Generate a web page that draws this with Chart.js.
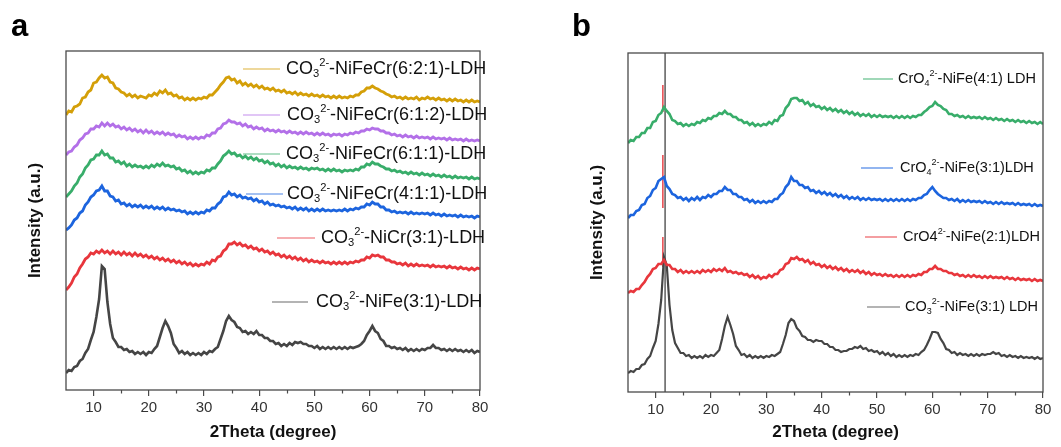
<!DOCTYPE html>
<html>
<head>
<meta charset="utf-8">
<script src="https://cdn.jsdelivr.net/npm/chart.js@4.4.0/dist/chart.umd.min.js"></script>
<style>
	body { margin: 0; background: #fff; }
	#wrap { position: relative; width: 1061px; height: 447px; background: #fff; }
	#panelA { position: absolute; left: 0; top: 0; }
	#panelB { position: absolute; left: 530px; top: 0; }
</style>
</head>
<body>
<div id="wrap">
	<canvas id="panelA" width="530" height="447"></canvas>
	<canvas id="panelB" width="531" height="447"></canvas>
</div>
<script>
// 2theta grid (degree)
const twoTheta = [
	5,5.5,6,6.5,7,7.5,8,8.5,9,9.5,
	10,10.5,11,11.5,12,12.5,13,13.5,14,14.5,
	15,15.5,16,16.5,17,17.5,18,18.5,19,19.5,
	20,20.5,21,21.5,22,22.5,23,23.5,24,24.5,
	25,25.5,26,26.5,27,27.5,28,28.5,29,29.5,
	30,30.5,31,31.5,32,32.5,33,33.5,34,34.5,
	35,35.5,36,36.5,37,37.5,38,38.5,39,39.5,
	40,40.5,41,41.5,42,42.5,43,43.5,44,44.5,
	45,45.5,46,46.5,47,47.5,48,48.5,49,49.5,
	50,50.5,51,51.5,52,52.5,53,53.5,54,54.5,
	55,55.5,56,56.5,57,57.5,58,58.5,59,59.5,
	60,60.5,61,61.5,62,62.5,63,63.5,64,64.5,
	65,65.5,66,66.5,67,67.5,68,68.5,69,69.5,
	70,70.5,71,71.5,72,72.5,73,73.5,74,74.5,
	75,75.5,76,76.5,77,77.5,78,78.5,79,79.5,
	80
]

// panel a: stacked intensities (a.u., offset)
const aNiFeCr621 = [
	275,279,278,283,284,286,292,293,298,300,
	307,308,312,315,312,313,308,307,302,301,
	298,297,294,296,293,295,292,294,293,292,
	295,294,297,295,299,297,300,296,297,294,
	295,292,293,290,292,290,292,290,292,291,
	293,292,295,295,298,301,305,308,312,313,
	310,311,307,309,305,307,304,306,303,305,
	302,304,301,302,300,302,299,300,298,300,
	297,298,296,298,295,297,295,296,294,296,
	294,295,293,295,293,294,292,294,292,294,
	292,293,292,294,293,295,295,298,299,302,
	302,304,302,301,299,298,296,295,293,294,
	292,293,291,293,291,292,291,293,290,292,
	291,293,291,292,290,292,290,291,289,291,
	289,291,289,290,288,290,288,290,288,289,
	288
]
const aNiFeCr612 = [
	235,238,239,243,245,250,252,256,257,261,
	261,264,263,267,264,267,264,266,263,264,
	261,263,260,262,259,261,258,260,257,260,
	257,259,256,258,256,258,255,257,255,256,
	253,255,253,254,251,253,251,253,251,253,
	252,255,254,257,257,261,262,266,267,270,
	268,268,266,267,264,266,263,264,261,263,
	261,262,259,261,259,260,258,260,258,259,
	257,259,257,258,256,258,256,258,256,257,
	255,257,255,257,255,256,254,256,255,256,
	254,256,255,257,256,258,257,259,259,261,
	260,262,261,261,259,259,257,257,255,256,
	254,255,253,255,253,254,252,254,252,253,
	252,253,251,253,251,252,251,252,250,252,
	250,251,250,251,249,251,249,250,249,250,
	249
]
const aNiFeCr611 = [
	193,196,199,204,207,213,216,222,225,230,
	231,235,235,239,235,236,232,232,228,229,
	226,228,224,226,223,225,223,224,222,224,
	222,225,223,226,224,227,224,225,223,224,
	221,222,219,220,217,219,216,218,216,218,
	217,220,219,222,222,226,229,234,236,239,
	236,237,234,235,232,234,231,233,230,232,
	229,230,227,229,226,227,224,226,223,225,
	222,224,222,223,221,223,221,222,220,222,
	221,222,220,221,219,221,219,221,219,220,
	218,220,219,220,219,221,220,223,223,226,
	225,228,226,226,224,223,221,221,219,220,
	218,219,217,218,216,218,216,217,215,217,
	215,216,214,216,214,215,213,215,213,214,
	212,214,212,213,212,213,211,213,211,212,
	211
]
const aNiFeCr411 = [
	160,162,165,170,172,177,179,185,188,193,
	195,199,200,204,199,199,194,193,189,190,
	186,187,184,186,183,185,183,185,182,184,
	182,184,181,183,181,183,180,182,180,181,
	179,180,178,179,176,178,176,178,176,178,
	177,180,179,182,182,186,188,193,194,198,
	195,196,193,195,192,193,191,192,189,191,
	188,189,186,188,185,186,184,185,183,184,
	182,183,181,183,180,182,180,182,179,181,
	179,181,179,181,179,180,179,180,179,180,
	179,181,179,181,180,182,181,183,183,186,
	185,188,186,186,183,183,180,180,178,179,
	177,178,177,178,176,178,176,177,176,177,
	176,177,175,177,175,176,174,176,174,175,
	174,175,173,175,173,174,173,174,172,174,
	173
]
const aNiCr31 = [
	100,103,107,113,116,122,126,131,133,137,
	136,139,137,140,137,139,136,139,136,138,
	135,138,135,137,134,137,134,136,133,135,
	132,134,131,133,130,132,129,131,128,130,
	127,129,126,128,125,127,124,126,124,126,
	125,128,126,130,129,133,134,139,141,146,
	146,148,145,147,144,145,142,144,141,142,
	139,141,138,139,136,138,135,136,133,135,
	132,134,131,133,130,132,129,131,128,130,
	128,129,127,129,127,128,126,128,126,128,
	126,128,126,128,127,129,128,130,130,133,
	132,135,134,135,133,133,130,130,128,128,
	126,127,125,127,124,126,124,126,124,125,
	124,125,123,125,123,124,123,124,122,124,
	122,123,121,123,121,122,120,122,120,122,
	121
]
const aNiFe31 = [
	17,20,19,23,24,29,31,37,41,50,
	58,73,91,124,121,88,66,52,48,43,
	43,40,41,38,39,36,38,36,38,35,
	38,37,41,44,53,62,69,64,57,46,
	42,37,39,36,38,35,37,35,37,35,
	38,36,39,38,41,43,51,59,69,74,
	70,68,63,62,58,59,56,58,56,59,
	55,55,52,52,49,49,46,47,44,46,
	44,47,45,48,47,48,46,46,44,44,
	42,44,41,43,41,43,41,43,41,43,
	41,43,41,43,42,43,44,46,49,55,
	59,64,59,57,51,49,44,44,42,43,
	41,42,40,42,39,41,39,41,39,41,
	40,42,42,45,42,42,40,41,39,41,
	39,41,39,40,38,40,38,40,37,39,
	38
]

// panel b: stacked intensities (a.u., offset)
const bCrO4NiFe41 = [
	249,252,251,255,255,259,259,264,264,270,
	271,277,279,285,281,278,272,271,268,269,
	266,268,266,268,267,270,269,272,271,274,
	273,276,276,279,278,281,278,278,275,275,
	272,272,269,270,267,269,266,268,266,268,
	267,270,268,272,271,276,277,284,287,293,
	294,294,291,292,288,290,286,288,285,286,
	283,285,282,284,281,283,280,282,279,281,
	278,280,277,279,276,278,276,278,275,277,
	275,277,275,276,275,276,274,276,274,276,
	274,276,274,276,275,277,277,280,282,285,
	286,290,287,286,283,282,278,278,276,277,
	275,276,274,276,274,275,274,275,273,275,
	273,274,272,274,272,273,271,273,271,272,
	270,272,270,271,269,271,269,270,268,270,
	268
]
const bCrO4NiFe31 = [
	174,177,177,181,182,187,188,194,196,202,
	204,211,213,215,206,203,198,197,194,195,
	192,194,191,194,192,195,192,195,194,197,
	195,198,198,201,201,205,202,202,198,198,
	195,195,192,193,190,192,189,191,189,191,
	189,191,190,193,193,197,199,205,208,215,
	211,211,207,207,204,205,201,202,199,201,
	198,200,197,199,196,198,195,197,194,196,
	193,195,193,195,192,194,192,194,192,193,
	192,193,191,193,191,193,191,193,191,193,
	191,193,191,193,192,194,194,197,198,202,
	205,201,198,196,194,194,192,193,191,193,
	190,192,190,192,190,191,190,191,189,191,
	189,190,188,190,188,190,188,189,188,189,
	187,189,187,188,187,188,186,188,186,187,
	186
]
const bCrO4NiFe21 = [
	99,101,100,103,103,107,110,115,118,123,
	124,128,128,132,127,127,123,123,120,122,
	119,121,119,121,119,121,119,122,120,122,
	120,123,121,123,121,124,120,121,119,120,
	118,119,117,118,115,117,114,116,113,115,
	114,117,115,118,118,122,123,128,129,134,
	133,135,132,133,130,132,128,130,127,128,
	125,127,124,126,123,125,122,124,121,123,
	120,122,120,122,119,121,118,120,117,119,
	117,118,116,118,116,117,115,117,115,117,
	115,117,115,117,116,118,117,120,120,123,
	123,126,123,123,121,121,119,119,117,118,
	116,117,115,117,115,117,115,116,114,116,
	114,116,114,115,114,115,113,115,113,114,
	112,114,112,113,112,113,111,113,111,112,
	111
]
const bCO3NiFe31 = [
	19,21,20,23,23,27,28,33,36,44,
	51,68,92,135,127,87,62,49,44,39,
	39,36,37,34,36,34,36,34,37,35,
	37,36,39,42,53,66,75,67,58,46,
	42,37,38,35,37,34,36,34,36,34,
	36,35,37,36,38,40,48,57,69,73,
	71,64,61,56,55,52,52,50,52,51,
	51,48,48,45,45,42,42,40,41,41,
	43,43,45,44,46,43,44,41,42,40,
	41,38,40,37,39,36,38,35,37,35,
	37,35,37,36,38,37,40,42,47,53,
	60,60,59,53,49,43,42,39,40,37,
	39,37,38,36,38,36,38,36,38,37,
	38,38,40,38,39,36,37,35,37,35,
	36,34,36,34,35,34,35,33,35,33,
	34
]

// axis ticks
const majorTicks = [10, 20, 30, 40, 50, 60, 70, 80]
const minorTicks = [15, 25, 35, 45, 55, 65, 75]

// reference lines in panel b
const refLineX = 11.7
const refMarkX = 11.3
const refMarks = [[307, 280], [237, 184], [155, 125]]

// legend labels: [text, 'sub' | 'sup' | '']
const labelsA = [
	[['CO', ''], ['3', 'sub'], ['2-', 'sup'], ['-NiFeCr(6:2:1)-LDH', '']],
	[['CO', ''], ['3', 'sub'], ['2-', 'sup'], ['-NiFeCr(6:1:2)-LDH', '']],
	[['CO', ''], ['3', 'sub'], ['2-', 'sup'], ['-NiFeCr(6:1:1)-LDH', '']],
	[['CO', ''], ['3', 'sub'], ['2-', 'sup'], ['-NiFeCr(4:1:1)-LDH', '']],
	[['CO', ''], ['3', 'sub'], ['2-', 'sup'], ['-NiCr(3:1)-LDH', '']],
	[['CO', ''], ['3', 'sub'], ['2-', 'sup'], ['-NiFe(3:1)-LDH', '']]
]
const labelsB = [
	[['CrO', ''], ['4', 'sub'], ['2-', 'sup'], ['-NiFe(4:1) LDH', '']],
	[['CrO', ''], ['4', 'sub'], ['2-', 'sup'], ['-NiFe(3:1)LDH', '']],
	[['CrO4', ''], ['2-', 'sup'], ['-NiFe(2:1)LDH', '']],
	[['CO', ''], ['3', 'sub'], ['2-', 'sup'], ['-NiFe(3:1) LDH', '']]
]

const FONT = 'Arial, "Liberation Sans", sans-serif'

document.addEventListener("DOMContentLoaded", function () {

	const toPoints = (vals) => twoTheta.map((x, i) => ({ x: x, y: vals[i] }))

	const lineSet = (vals, color, width) => ({
		data: toPoints(vals),
		borderColor: color,
		borderWidth: width,
		pointRadius: 0,
		tension: 0,
		fill: false
	})

	//text with sub/superscripts
	function drawRich(ctx, parts, x, y, size) {
		parts.forEach(([t, kind]) => {
			let fs = size
			let dy = 0
			if (kind === 'sub') { fs = size * 0.62; dy = size * 0.3 }
			if (kind === 'sup') { fs = size * 0.62; dy = -size * 0.36 }
			ctx.font = `${fs}px ${FONT}`
			ctx.fillText(t, x, y + dy)
			x += ctx.measureText(t).width
		})
	}

	//frame, minor ticks, panel letter and legend
	const decorPlugin = {
		id: 'panelDecor',
		afterDraw(chart, args, opts) {
			const ctx = chart.ctx
			const area = chart.chartArea
			const xs = chart.scales.x
			ctx.save()
			ctx.strokeStyle = '#4a4a4a'
			ctx.lineWidth = 1.3
			ctx.strokeRect(area.left, area.top, area.right - area.left, area.bottom - area.top)

			ctx.lineWidth = 1.2
			minorTicks.forEach((v) => {
				const px = Math.round(xs.getPixelForValue(v)) + 0.5
				ctx.beginPath()
				ctx.moveTo(px, area.bottom)
				ctx.lineTo(px, area.bottom + 3.5)
				ctx.stroke()
			})

			ctx.fillStyle = '#000'
			ctx.textBaseline = 'alphabetic'
			ctx.font = `bold 31px ${FONT}`
			ctx.fillText(opts.letter, opts.letterX, opts.letterY)

			ctx.textBaseline = 'middle'
			opts.entries.forEach((e, i) => {
				const ds = chart.data.datasets[i]
				ctx.strokeStyle = ds.borderColor
				ctx.globalAlpha = 0.8
				ctx.lineWidth = 1.2
				ctx.beginPath()
				ctx.moveTo(e.x0, e.y)
				ctx.lineTo(e.x1, e.y)
				ctx.stroke()
				ctx.globalAlpha = 1
				ctx.fillStyle = '#111'
				drawRich(ctx, opts.labels[i], e.tx, e.y, opts.fontSize)
			})
			ctx.restore()
		}
	}

	function axes(yWidth, titlePad, xHeight) {
		return {
			x: {
				type: 'linear',
				min: 5,
				max: 80,
				afterBuildTicks: (scale) => { scale.ticks = majorTicks.map((v) => ({ value: v })) },
				afterFit: (scale) => { scale.height = xHeight },
				grid: { drawOnChartArea: false, drawTicks: true, tickLength: 6, color: '#4a4a4a', lineWidth: 1.2 },
				border: { display: false },
				ticks: { font: { family: FONT, size: 15 }, color: '#333', padding: 3, maxRotation: 0 },
				title: {
					display: true,
					text: '2Theta (degree)',
					font: { family: FONT, size: 17, weight: 'bold' },
					color: '#111',
					padding: { top: 0, bottom: 4 }
				}
			},
			y: {
				min: 0,
				max: 339,
				afterFit: (scale) => { scale.width = yWidth },
				grid: { display: false },
				border: { display: false },
				ticks: { display: false },
				title: {
					display: true,
					text: 'Intensity (a.u.)',
					font: { family: FONT, size: 17, weight: 'bold' },
					color: '#111',
					padding: { top: titlePad, bottom: 0 }
				}
			}
		}
	}

	//panel a
	new Chart(document.getElementById('panelA'), {
		type: 'line',
		data: {
			datasets: [
				lineSet(aNiFeCr621, '#d49f08', 2.8),
				lineSet(aNiFeCr612, '#b370e8', 2.8),
				lineSet(aNiFeCr611, '#38ad6a', 2.8),
				lineSet(aNiFeCr411, '#1c64de', 2.8),
				lineSet(aNiCr31, '#e8363c', 2.8),
				lineSet(aNiFe31, '#454545', 2.6)
			]
		},
		options: {
			responsive: false,
			animation: false,
			layout: { padding: { left: 0, right: 50, top: 51, bottom: 0 } },
			scales: axes(66, 25, 57),
			plugins: {
				legend: { display: false },
				tooltip: { enabled: false },
				panelDecor: {
					letter: 'a',
					letterX: 11,
					letterY: 36,
					fontSize: 18,
					labels: labelsA,
					entries: [
						{ x0: 243, x1: 280, tx: 286, y: 69 },
						{ x0: 243, x1: 280, tx: 287, y: 115 },
						{ x0: 243, x1: 280, tx: 286, y: 154 },
						{ x0: 246, x1: 283, tx: 287, y: 194 },
						{ x0: 277, x1: 315, tx: 321, y: 238 },
						{ x0: 272, x1: 308, tx: 316, y: 302 }
					]
				}
			}
		},
		plugins: [decorPlugin]
	})

	//panel b
	new Chart(document.getElementById('panelB'), {
		type: 'line',
		data: {
			datasets: [
				lineSet(bCrO4NiFe41, '#38ad6a', 2.6),
				lineSet(bCrO4NiFe31, '#1c64de', 2.6),
				lineSet(bCrO4NiFe21, '#e8363c', 2.6),
				lineSet(bCO3NiFe31, '#454545', 2.2),
				{
					data: [{ x: refLineX, y: 0 }, { x: refLineX, y: 339 }],
					borderColor: '#333',
					borderWidth: 1.2,
					pointRadius: 0
				},
				{
					data: refMarks.flatMap(([y0, y1]) => [{ x: refMarkX, y: y0 }, { x: refMarkX, y: y1 }, { x: refMarkX, y: null }]),
					borderColor: '#e8454a',
					borderWidth: 1.5,
					pointRadius: 0,
					spanGaps: false
				}
			]
		},
		options: {
			responsive: false,
			animation: false,
			layout: { padding: { left: 0, right: 18, top: 53, bottom: 0 } },
			scales: axes(98, 57, 55),
			plugins: {
				legend: { display: false },
				tooltip: { enabled: false },
				panelDecor: {
					letter: 'b',
					letterX: 42,
					letterY: 36,
					fontSize: 14.5,
					labels: labelsB,
					entries: [
						{ x0: 333, x1: 363, tx: 368, y: 79 },
						{ x0: 331, x1: 363, tx: 370, y: 168 },
						{ x0: 335, x1: 367, tx: 373, y: 237 },
						{ x0: 337, x1: 370, tx: 375, y: 307 }
					]
				}
			}
		},
		plugins: [decorPlugin]
	})
})
</script>
</body>
</html>
